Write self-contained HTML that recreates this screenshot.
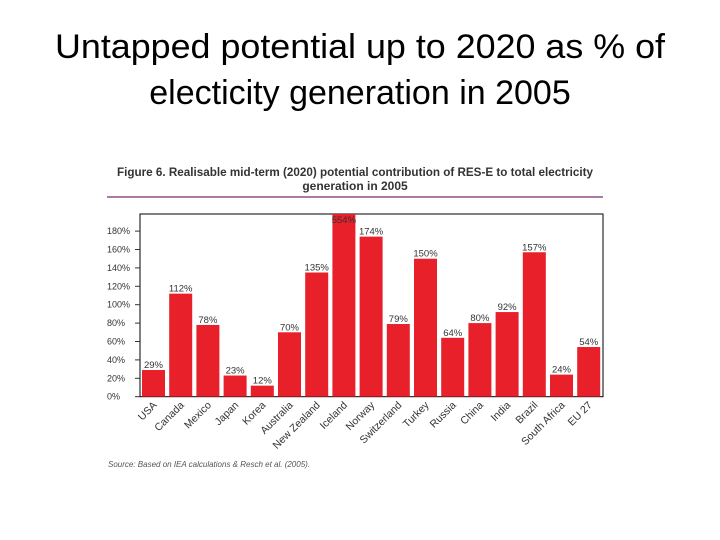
<!DOCTYPE html>
<html><head><meta charset="utf-8"><style>
body{margin:0;background:#fff;}
svg{display:block;}
</style></head><body>
<svg id="chart" width="720" height="540" xmlns="http://www.w3.org/2000/svg" font-family="Liberation Sans, sans-serif">
<text x="360" y="58" font-size="34" text-anchor="middle" fill="#000" textLength="610" lengthAdjust="spacingAndGlyphs">Untapped potential up to 2020 as % of</text>
<text x="360" y="104" font-size="34" text-anchor="middle" fill="#000">electicity generation in 2005</text>
<text x="355" y="176" font-size="12" font-weight="bold" text-anchor="middle" fill="#333" textLength="476" lengthAdjust="spacingAndGlyphs">Figure 6. Realisable mid-term (2020) potential contribution of RES-E to total electricity</text>
<text x="355" y="190" font-size="12" font-weight="bold" text-anchor="middle" fill="#333">generation in 2005</text>
<line x1="107" y1="197" x2="603" y2="197" stroke="#7a2a6a" stroke-width="1.2"/>
<rect x="140" y="214" width="463" height="182.7" fill="none" stroke="#000" stroke-width="1"/>
<g id="bars"></g>
<g id="yaxis"></g>
<g id="xaxis"></g>
<text x="108" y="467" font-size="8" font-style="italic" fill="#555">Source: Based on IEA calculations &amp; Resch et al. (2005).</text>
</svg>
<script>
const categories=["USA","Canada","Mexico","Japan","Korea","Australia","New Zealand","Iceland","Norway","Switzerland","Turkey","Russia","China","India","Brazil","South Africa","EU 27"];
const values=[29,112,78,23,12,70,135,554,174,79,150,64,80,92,157,24,54];
const yTicks=[0,20,40,60,80,100,120,140,160,180];
const yTickLabels=["0%","20%","40%","60%","80%","100%","120%","140%","160%","180%"];
const NS="http://www.w3.org/2000/svg";
const baseY=396.7, pxPer=0.92, plotTop=214, startX=142, pitch=27.2, bw=23;
const yS=v=>Math.max(plotTop,baseY-v*pxPer);
const xS=i=>startX+i*pitch;
function mk(tag,attrs,parent,txt){const e=document.createElementNS(NS,tag);for(const k in attrs)e.setAttribute(k,attrs[k]);if(txt!==undefined)e.textContent=txt;parent.appendChild(e);return e;}
const bars=document.getElementById('bars'),ya=document.getElementById('yaxis'),xa=document.getElementById('xaxis');
values.forEach((v,i)=>{
  const y=yS(v);
  const r=mk('rect',{x:xS(i),y:y,width:bw,height:baseY-y,fill:'#e8202a'},bars);
  
  
  const ly=v*pxPer>baseY-plotTop?y+9:y-2;
  const t=mk('text',{x:xS(i)+bw/2,y:ly,'font-size':9.5,'text-anchor':'middle',fill:'#333'},bars,v+'%');
  
  
  const cx=xS(i)+bw/2+4, cy=baseY+9;
  const l=mk('text',{x:cx,y:cy,'font-size':10.5,'text-anchor':'end',fill:'#333',transform:'rotate(-45 '+cx+' '+cy+')'},xa,categories[i]);
  
  
});
yTicks.forEach((v,i)=>{
  const y=yS(v);
  const tk=mk('line',{x1:135,x2:140,y1:y,y2:y,stroke:'#333'},ya);
  
  
  const t=mk('text',{x:107,y:y+3,'font-size':9,fill:'#333'},ya,yTickLabels[i]);
  
  
});
</script>
</body></html>
